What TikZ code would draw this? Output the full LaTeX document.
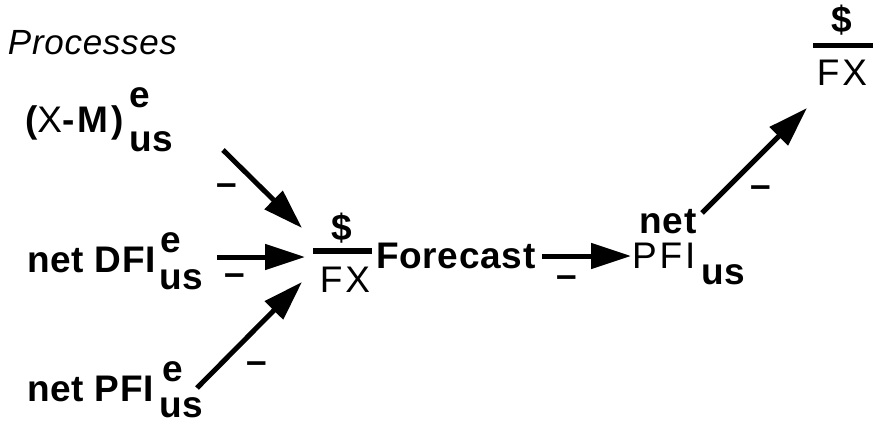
\documentclass[tikz,border=0pt]{standalone}
\usepackage{fontspec}
\setmainfont{Liberation Sans}[LetterSpace=2]
\usetikzlibrary{arrows.meta}
\begin{document}
\begin{tikzpicture}[x=1pt,y=-1pt,
  txt/.style={inner sep=0,outer sep=0,anchor=base west,font=\fontsize{37}{42}\selectfont\bfseries},
  rtxt/.style={inner sep=0,outer sep=0,anchor=base west,font=\fontsize{37}{42}\selectfont},
  ctr/.style={inner sep=0,outer sep=0,anchor=base,font=\fontsize{37}{42}\selectfont\bfseries},
  rctr/.style={inner sep=0,outer sep=0,anchor=base,font=\fontsize{37}{42}\selectfont\addfontfeature{LetterSpace=8}},
  minus/.style={inner sep=0,outer sep=0,anchor=base,font=\fontsize{37}{42}\selectfont\bfseries},
  link/.style={line width=5pt,-{Triangle[length=40pt,width=25pt]}},
  bar/.style={fill=black}]
\useasboundingbox (0,0) rectangle (874,425);

\node[rtxt,font=\fontsize{35}{40}\selectfont\itshape] (proc) at (8,55) {Processes};

% (X-M)^e_us
\node[txt,font=\fontsize{37}{42}\selectfont\bfseries\addfontfeature{LetterSpace=8}] (xm) at (25,132) {({\mdseries X}-M)};
\node[txt] (xme) at (129,107) {e};
\node[txt] (xmus) at (129,151) {us};

% net DFI^e_us
\node[txt] (dfi) at (27,272) {net DFI};
\node[txt] (dfie) at (160,252) {e};
\node[txt] (dfius) at (159,289) {us};

% net PFI^e_us
\node[txt] (pfil) at (27,401) {net PFI};
\node[txt] (pfile) at (162,381) {e};
\node[txt] (pfilus) at (159,417) {us};

% $/FX Forecast
\node[ctr] (d1) at (342,240) {\$};
\fill[bar] (313,248) rectangle (372,254);
\node[rctr] (fx1) at (345,292) {FX};
\node[txt] (fc) at (376,268) {Forecast};

% net PFI_us
\node[ctr] (net2) at (668,233) {net};
\node[rtxt,font=\fontsize{37}{42}\selectfont\addfontfeature{LetterSpace=8}] (pfi2) at (632,268) {PFI};
\node[txt] (us2) at (701,284) {us};

% top right $/FX
\node[ctr] (d2) at (842,33) {\$};
\fill[bar] (813,43) rectangle (873,48);
\node[rctr] (fx2) at (842,86) {FX};

% connector ends
\coordinate (a1s) at (223,150);
\coordinate (a1e) at (302,228);
\coordinate (a2s) at (217,257);
\coordinate (a2e) at (305,257);
\coordinate (a3s) at (197,388);
\coordinate (a3e) at (302,282);
\coordinate (a4s) at (542,256);
\coordinate (a4e) at (631,256);
\coordinate (a5s) at (702,213);
\coordinate (a5e) at (807,108);

\draw[link] (a1s) -- (a1e);
\draw[link] (a2s) -- (a2e);
\draw[link] (a3s) -- (a3e);
\draw[link] (a4s) -- (a4e);
\draw[link] (a5s) -- (a5e);

% signs
\node[minus] (m1) at (227,195) {–};
\node[minus] (m2) at (235,285) {–};
\node[minus] (m3) at (257,373) {–};
\node[minus] (m4) at (567,287) {–};
\node[minus] (m5) at (761,197) {–};
\end{tikzpicture}
\end{document}
